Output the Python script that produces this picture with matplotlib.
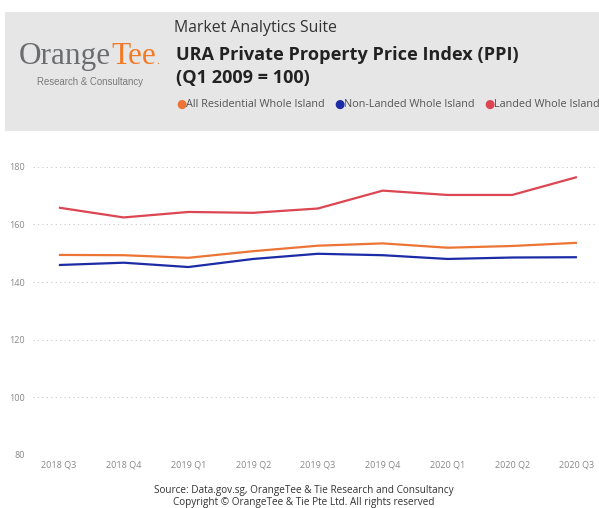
import matplotlib
matplotlib.use("Agg")
import matplotlib.pyplot as plt
from matplotlib.patches import Rectangle

plt.rcParams['font.family'] = ['Open Sans', 'DejaVu Sans']

# data
quarters = ['2018 Q3', '2018 Q4', '2019 Q1', '2019 Q2', '2019 Q3',
            '2019 Q4', '2020 Q1', '2020 Q2', '2020 Q3']
all_residential = [149.4, 149.3, 148.4, 150.7, 152.6, 153.4, 151.9, 152.5, 153.6]
non_landed = [145.9, 146.7, 145.2, 148.0, 149.8, 149.3, 148.0, 148.5, 148.6]
landed = [165.8, 162.4, 164.3, 164.0, 165.5, 171.7, 170.2, 170.2, 176.4]
series_names = ['All Residential Whole Island', 'Non-Landed Whole Island', 'Landed Whole Island']
y_ticks = [80, 100, 120, 140, 160, 180]

c_orange = '#ec7434'
c_blue = '#1c2ba6'
c_red = '#dc4652'

W, H = 599, 508
fig = plt.figure(figsize=(W / 100, H / 100), dpi=100)
renderer = fig.canvas.get_renderer()

def fx(px):
    return px / W

def fy(py):
    return 1 - py / H

# grey header band
fig.patches.append(Rectangle((fx(5), fy(131)), fx(594), 119 / H, transform=fig.transFigure,
                             facecolor='#e6e6e6', edgecolor='none', zorder=0))

# logo: "Orange" grey, "Tee." orange, set tight against each other
serif = ['Liberation Serif', 'DejaVu Serif']
t1 = fig.text(fx(19), fy(64), 'Orange', family=serif, fontsize=22.5, color='#6b6c6f',
              va='baseline', ha='left')
x_end = t1.get_window_extent(renderer).x1
t2 = fig.text(x_end / W, fy(64), 'Tee', family=serif, fontsize=22.5, color='#f27a26',
              va='baseline', ha='left')
x_end = t2.get_window_extent(renderer).x1
fig.text(x_end / W, fy(64), '.', family=serif, fontsize=8, color='#f27a26',
         va='baseline', ha='left')
fig.text(fx(90), fy(82), 'Research & Consultancy', family=['Liberation Sans', 'DejaVu Sans'],
         fontsize=6.9, color='#7a7a7a', ha='center', va='center')

# titles
fig.text(fx(174), fy(28.5), 'Market Analytics Suite', fontsize=11.4, color='#333333',
         ha='left', va='center')
fig.text(fx(176), fy(55), 'URA Private Property Price Index (PPI)', fontsize=13.1,
         fontweight='bold', color='#222222', ha='left', va='center')
fig.text(fx(176), fy(78), '(Q1 2009 = 100)', fontsize=13.1,
         fontweight='bold', color='#222222', ha='left', va='center')

# legend row
legend_x = [176, 334, 484]
for x0, name, col in zip(legend_x, series_names, [c_orange, c_blue, c_red]):
    fig.text(fx(x0), fy(104.5), '\u25cf', fontsize=8.5, color=col,
             family='DejaVu Sans', ha='left', va='center')
    fig.text(fx(x0 + 10), fy(104.5), name, fontsize=7.8, color='#555555',
             ha='left', va='center')

# chart
ax = fig.add_axes([fx(33), fy(455), fx(564), (455 - 166.7) / H])
x = range(len(quarters))
ax.plot(x, all_residential, color=c_orange, lw=1.6, solid_capstyle='butt')
ax.plot(x, non_landed, color=c_blue, lw=1.6, solid_capstyle='butt')
ax.plot(x, landed, color=c_red, lw=1.6, solid_capstyle='butt')

ax.set_ylim(80, 180)
ax.set_xlim(-0.40, 8.31)
ax.set_yticks(y_ticks)
ax.set_xticks(list(x))
ax.set_xticklabels(quarters)
ax.grid(axis='y', color='#c8c8c8', linestyle=(0, (1, 3)), lw=0.8)
ax.set_axisbelow(True)
for s in ax.spines.values():
    s.set_visible(False)
ax.tick_params(length=0, labelsize=6.5, labelcolor='#888888')
ax.tick_params(axis='x', pad=4)
ax.tick_params(axis='y', pad=6)
for line in ax.lines:
    line.set_clip_on(False)

# footer
fig.text(fx(304), fy(490), 'Source: Data.gov.sg, OrangeTee & Tie Research and Consultancy',
         fontsize=7.2, color='#333333', ha='center', va='center')
fig.text(fx(304), fy(502), 'Copyright \u00a9 OrangeTee & Tie Pte Ltd. All rights reserved',
         fontsize=7.2, color='#333333', ha='center', va='center')

fig.savefig('out.png', dpi=100, facecolor='white')
